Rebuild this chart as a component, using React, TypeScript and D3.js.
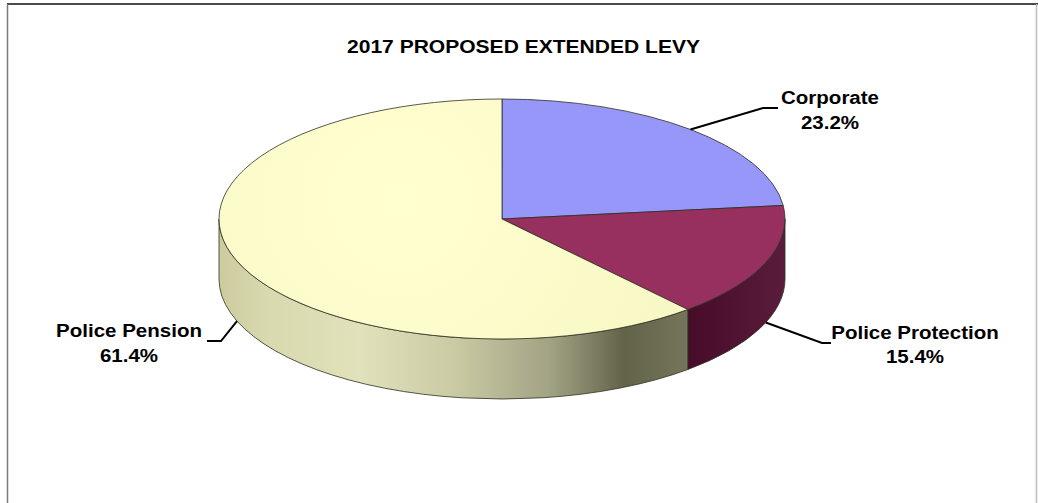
import React from "react";
import * as d3 from "d3";

const categories = ["Corporate", "Police Protection", "Police Pension"];
const values = [23.2, 15.4, 61.4];
const percentLabels = ["23.2%", "15.4%", "61.4%"];
const title = "2017 PROPOSED EXTENDED LEVY";

const topColors = ["#9797F9", "#97305F", "#FDFDCB"];
const W = 1038, H = 503;
const cx = 502, cy = 219, rx = 283, ry = 120, depth = 60;

// label layout: elbow, line end, text center x, baselines
const labelLayout = [
  { elbow: [763, 108], end: [778, 108], tx: 830, y1: 104, y2: 129 },
  { elbow: [822, 343], end: [831, 343], tx: 915, y1: 339, y2: 363 },
  { elbow: [221, 341], end: [207, 341], tx: 129, y1: 337, y2: 362 },
];

const pt = (a: number, dy = 0): [number, number] => [cx + rx * Math.sin(a), cy - ry * Math.cos(a) + dy];

function topPath(a0: number, a1: number) {
  const p0 = pt(a0), p1 = pt(a1);
  const large = a1 - a0 > Math.PI ? 1 : 0;
  return `M${cx},${cy}L${p0[0]},${p0[1]}A${rx},${ry} 0 ${large} 1 ${p1[0]},${p1[1]}Z`;
}

function wallPath(a0: number, a1: number) {
  const s = Math.max(a0, Math.PI / 2), e = Math.min(a1, (3 * Math.PI) / 2);
  if (e <= s) return null;
  const p0 = pt(s), p1 = pt(e), q1 = pt(e, depth), q0 = pt(s, depth);
  const large = e - s > Math.PI ? 1 : 0;
  return `M${p0[0]},${p0[1]}A${rx},${ry} 0 ${large} 1 ${p1[0]},${p1[1]}L${q1[0]},${q1[1]}A${rx},${ry} 0 ${large} 0 ${q0[0]},${q0[1]}Z`;
}

export default function App() {
  const arcs = d3.pie<number>().sort(null).value((d) => d)(values);
  const font = "'Liberation Sans', Arial, sans-serif";
  return (
    <svg width={W} height={H} style={{ position: "absolute", left: 0, top: 0, background: "#fff" }}>
      <defs>
        <linearGradient id="wall2" gradientUnits="userSpaceOnUse" x1={cx - rx} y1={0} x2={690} y2={0}>
          <stop offset="0" stopColor="#CBCB9E" />
          <stop offset="0.1" stopColor="#D9D9AF" />
          <stop offset="0.3" stopColor="#E1E1BB" />
          <stop offset="0.5" stopColor="#CACAA4" />
          <stop offset="0.7" stopColor="#A3A385" />
          <stop offset="0.86" stopColor="#63634A" />
          <stop offset="1" stopColor="#76765B" />
        </linearGradient>
        <linearGradient id="wall1" gradientUnits="userSpaceOnUse" x1={690} y1={0} x2={cx + rx} y2={0}>
          <stop offset="0" stopColor="#470C2A" />
          <stop offset="1" stopColor="#5A1C3B" />
        </linearGradient>
        <linearGradient id="wall0" gradientUnits="userSpaceOnUse" x1={690} y1={0} x2={cx + rx} y2={0}>
          <stop offset="0" stopColor="#5656A0" />
          <stop offset="1" stopColor="#6A6AB0" />
        </linearGradient>
        <radialGradient id="top2" gradientUnits="userSpaceOnUse" cx={400} cy={200} r={300}>
          <stop offset="0" stopColor="#FFFFD0" />
          <stop offset="1" stopColor="#F8F8C6" />
        </radialGradient>
      </defs>

      {/* frame */}
      <line x1={7} y1={4} x2={W} y2={4} stroke="#4a4a4a" strokeWidth={2} />
      <line x1={7.5} y1={4} x2={7.5} y2={H} stroke="#7a7a7a" strokeWidth={1.5} />
      <line x1={1036.5} y1={4} x2={1036.5} y2={H} stroke="#bdbdbd" strokeWidth={1.5} />

      <text x={523.5} y={53} textAnchor="middle" fontFamily={font} fontWeight="bold" fontSize={18}
        textLength={353} lengthAdjust="spacingAndGlyphs" fill="#000">{title}</text>

      {/* side walls */}
      {arcs.map((a, i) => {
        const d = wallPath(a.startAngle, a.endAngle);
        return d ? <path key={"w" + i} d={d} fill={`url(#wall${i})`} stroke="#2e2e22" strokeWidth={0.8} /> : null;
      })}
      {/* top faces */}
      {arcs.map((a, i) => (
        <path key={"t" + i} d={topPath(a.startAngle, a.endAngle)}
          fill={i === 2 ? "url(#top2)" : topColors[i]} stroke="#2e2e22" strokeWidth={0.8} strokeLinejoin="round" />
      ))}

      {/* leader lines and labels */}
      {arcs.map((a, i) => {
        const mid = (a.startAngle + a.endAngle) / 2;
        const anchor = pt(mid, Math.cos(mid) < 0 ? depth : 0);
        const L = labelLayout[i];
        return (
          <g key={"l" + i}>
            <polyline points={`${anchor[0]},${anchor[1]} ${L.elbow[0]},${L.elbow[1]} ${L.end[0]},${L.end[1]}`}
              fill="none" stroke="#000" strokeWidth={2} />
            <g transform={`translate(${L.tx},0) scale(1.08,1)`}>
              <text x={0} y={L.y1} textAnchor="middle" fontFamily={font} fontWeight="bold" fontSize={19} fill="#000">{categories[i]}</text>
              <text x={0} y={L.y2} textAnchor="middle" fontFamily={font} fontWeight="bold" fontSize={19} fill="#000">{percentLabels[i]}</text>
            </g>
          </g>
        );
      })}
    </svg>
  );
}
